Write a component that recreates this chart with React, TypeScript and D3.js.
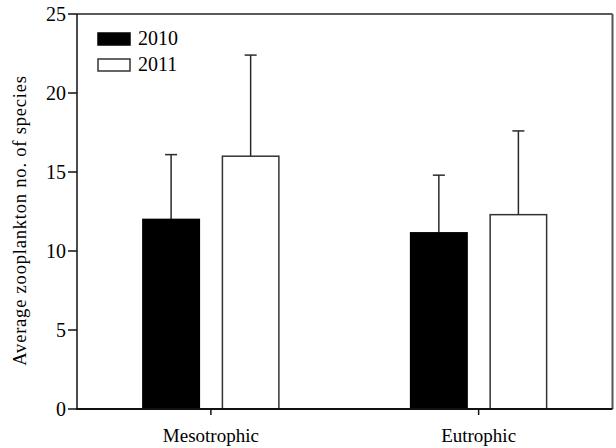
import React from "react"
import * as d3 from "d3"

// data
const categories = ["Mesotrophic", "Eutrophic"]
const years = ["2010", "2011"]
const means2010 = [12.0, 11.15]
const means2011 = [16.0, 12.3]
const errors2010 = [4.1, 3.65]
const errors2011 = [6.4, 5.3]
const yTicks = [0, 5, 10, 15, 20, 25]

const width = 616
const height = 448
const margin = { top: 14, right: 3.5, bottom: 39, left: 77 }
const font = "'Liberation Serif', 'Times New Roman', serif"

const App = () => {
  const x = d3
    .scaleBand<string>()
    .domain(categories)
    .range([margin.left, width - margin.right])

  const groupWidth = 136
  const xSub = d3.scaleBand<string>().domain(years).range([0, groupWidth]).paddingInner(0.29)

  const y = d3
    .scaleLinear()
    .domain([0, 25])
    .range([height - margin.bottom, margin.top])

  const series = [
    { year: "2010", means: means2010, errs: errors2010, fill: "#000" },
    { year: "2011", means: means2011, errs: errors2011, fill: "#fff" },
  ]

  const x0 = margin.left
  const x1 = width - margin.right
  const yBottom = y(0)
  const yTop = y(25)
  const capHalf = 6

  return (
    <svg
      width={width}
      height={height}
      style={{ position: "absolute", left: 0, top: 0, background: "#fff" }}
      fontFamily={font}
    >
      {/* error bars (drawn first so bar tops overlay) */}
      {series.map((s) =>
        categories.map((c, i) => {
          const cx = (x(c) as number) + x.bandwidth() / 2 - groupWidth / 2 + (xSub(s.year) as number) + xSub.bandwidth() / 2
          return (
            <g key={`err-${s.year}-${c}`} stroke="#2a2a2a" strokeWidth={1.5}>
              <line x1={cx} x2={cx} y1={y(s.means[i])} y2={y(s.means[i] + s.errs[i])} />
              <line x1={cx - capHalf} x2={cx + capHalf} y1={y(s.means[i] + s.errs[i])} y2={y(s.means[i] + s.errs[i])} />
            </g>
          )
        })
      )}

      {/* bars */}
      {series.map((s) =>
        categories.map((c, i) => {
          const bx = (x(c) as number) + x.bandwidth() / 2 - groupWidth / 2 + (xSub(s.year) as number)
          return (
            <rect
              key={`bar-${s.year}-${c}`}
              x={bx}
              y={y(s.means[i])}
              width={xSub.bandwidth()}
              height={yBottom - y(s.means[i])}
              fill={s.fill}
              stroke={s.fill === "#000" ? "#000" : "#333"}
              strokeWidth={1.5}
            />
          )
        })
      )}

      {/* frame: top and right */}
      <line x1={x0} x2={x1} y1={yTop} y2={yTop} stroke="#222" strokeWidth={1.5} />
      <line x1={x1} x2={x1} y1={yTop} y2={yBottom} stroke="#555" strokeWidth={2} />

      {/* y axis */}
      <line x1={x0} x2={x0} y1={yTop} y2={yBottom} stroke="#111" strokeWidth={1.5} />
      {yTicks.map((t) => (
        <g key={`yt-${t}`}>
          <line x1={x0 - 9} x2={x0} y1={y(t)} y2={y(t)} stroke="#111" strokeWidth={1.5} />
          <text x={x0 - 11} y={y(t)} dy="0.35em" textAnchor="end" fontSize={20} fill="#000">
            {t}
          </text>
        </g>
      ))}

      {/* x axis */}
      <line x1={x0 - 1} x2={x1} y1={yBottom} y2={yBottom} stroke="#111" strokeWidth={2} />
      {categories.map((c) => {
        const cx = (x(c) as number) + x.bandwidth() / 2
        return (
          <g key={`xt-${c}`}>
            <line x1={cx} x2={cx} y1={yBottom} y2={yBottom + 6} stroke="#111" strokeWidth={1.5} />
            <text x={cx} y={yBottom + 33} textAnchor="middle" fontSize={19} fill="#000">
              {c}
            </text>
          </g>
        )
      })}

      {/* y label */}
      <text
        transform={`translate(26,${(yTop + yBottom) / 2 + 9}) rotate(-90)`}
        textAnchor="middle"
        fontSize={18.5}
        letterSpacing={0.8}
        fill="#000"
      >
        Average zooplankton no. of species
      </text>

      {/* legend */}
      {series.map((s, i) => (
        <g key={`leg-${s.year}`} transform={`translate(98,${33 + i * 26})`}>
          <rect width={32} height={12} fill={s.fill} stroke={s.fill === "#000" ? "#000" : "#333"} strokeWidth={1.5} />
          <text x={40} y={12} fontSize={20} fill="#000">
            {s.year}
          </text>
        </g>
      ))}
    </svg>
  )
}

export default App
